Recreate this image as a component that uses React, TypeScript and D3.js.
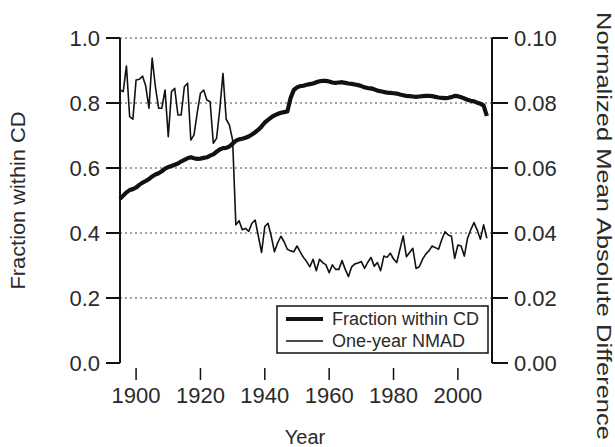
import React from "react";
import * as d3 from "d3";

const startYear = 1895;
const fractionWithinCD = [
  0.505, 0.515, 0.525, 0.532, 0.535, 0.54, 0.548, 0.555, 0.56, 0.566,
  0.574, 0.58, 0.584, 0.59, 0.598, 0.603, 0.606, 0.61, 0.614, 0.62,
  0.625, 0.63, 0.633, 0.63, 0.628, 0.629, 0.631, 0.633, 0.638, 0.642,
  0.65, 0.657, 0.661, 0.662, 0.666, 0.675, 0.684, 0.688, 0.69, 0.693,
  0.697, 0.703, 0.71, 0.718, 0.728, 0.74, 0.748, 0.756, 0.762, 0.766,
  0.77, 0.772, 0.774, 0.815, 0.84, 0.848, 0.852, 0.853, 0.856, 0.858,
  0.86, 0.864, 0.867, 0.868, 0.868, 0.866, 0.863, 0.862, 0.863, 0.864,
  0.862, 0.86, 0.859, 0.857, 0.855, 0.852, 0.848, 0.846, 0.845, 0.842,
  0.838, 0.836, 0.834, 0.832, 0.831, 0.83, 0.829, 0.826, 0.824, 0.822,
  0.821, 0.82, 0.819, 0.82, 0.821, 0.822, 0.822, 0.821, 0.819, 0.817,
  0.816, 0.815, 0.816, 0.818, 0.822, 0.821, 0.818, 0.814, 0.81, 0.807,
  0.805, 0.801, 0.798, 0.792, 0.76,
];
const oneYearNMAD = [
  0.084, 0.0835, 0.0914, 0.0758, 0.075, 0.0871, 0.0873, 0.0883, 0.0852, 0.0784,
  0.0938, 0.085, 0.0784, 0.0784, 0.084, 0.0696, 0.0835, 0.0845, 0.0763, 0.0763,
  0.085, 0.0861, 0.0686, 0.0702, 0.077, 0.083, 0.084, 0.0809, 0.0804, 0.0676,
  0.0691, 0.078, 0.0891, 0.075, 0.0732, 0.0686, 0.0425, 0.0438, 0.041, 0.0414,
  0.0405, 0.043, 0.044, 0.039, 0.034, 0.042, 0.043, 0.039, 0.0342, 0.037,
  0.039, 0.0373, 0.035, 0.0345, 0.0342, 0.036, 0.0342, 0.0325, 0.0312, 0.0296,
  0.0319, 0.0284, 0.0319, 0.0309, 0.0302, 0.0278, 0.0302, 0.0288, 0.0288, 0.0315,
  0.0288, 0.0266, 0.0296, 0.0305, 0.0308, 0.0312, 0.0291, 0.031, 0.0325, 0.0298,
  0.0309, 0.0284, 0.0329, 0.0325, 0.0338, 0.032, 0.0309, 0.035, 0.0391, 0.0327,
  0.034, 0.0353, 0.0291, 0.0296, 0.0319, 0.0335, 0.0345, 0.036, 0.0355, 0.035,
  0.038, 0.0404, 0.0394, 0.039, 0.0322, 0.0363, 0.036, 0.0329, 0.0384, 0.041,
  0.0432, 0.0409, 0.0381, 0.0425, 0.0384,
];
const xTicks = [1900, 1920, 1940, 1960, 1980, 2000];
const leftTicks = [0, 0.2, 0.4, 0.6, 0.8, 1.0];
const rightTicks = [0, 0.02, 0.04, 0.06, 0.08, 0.1];
const gridTicks = [0.2, 0.4, 0.6, 0.8, 1.0];
const legendLabels = ["Fraction within CD", "One-year NMAD"];

const W = 615;
const H = 447;
const FONT = "'Liberation Sans', Arial, sans-serif";
const INK = "#2a2a2a";

export default function App() {
  const x = d3.scaleLinear().domain([1895, 2010.6]).range([120, 492]);
  const yL = d3.scaleLinear().domain([0, 1]).range([363, 38]);
  const yR = d3.scaleLinear().domain([0, 0.1]).range([363, 38]);

  const lineL = d3
    .line<number>()
    .x((_, i) => x(startYear + i))
    .y((d) => yL(d));
  const lineR = d3
    .line<number>()
    .x((_, i) => x(startYear + i))
    .y((d) => yR(d));

  return (
    <div style={{ position: "fixed", left: 0, top: 0 }}>
      <svg width={W} height={H} style={{ display: "block", background: "#fff" }}>
        {gridTicks.map((t) => (
          <line
            key={t}
            x1={120}
            x2={492}
            y1={yL(t)}
            y2={yL(t)}
            stroke="#444"
            strokeWidth={1}
            strokeDasharray="2,3"
          />
        ))}
        <path d={lineR(oneYearNMAD) || ""} fill="none" stroke="#111" strokeWidth={1.6} strokeLinejoin="round" />
        <path d={lineL(fractionWithinCD) || ""} fill="none" stroke="#111" strokeWidth={4.2} strokeLinejoin="round" />

        {/* left axis */}
        <line x1={120} x2={120} y1={yL(1)} y2={yL(0)} stroke="#111" strokeWidth={2} />
        {leftTicks.map((t) => (
          <g key={t}>
            <line x1={106} x2={120} y1={yL(t)} y2={yL(t)} stroke="#111" strokeWidth={2} />
            <text x={100} y={yL(t)} dy="0.36em" textAnchor="end" fontFamily={FONT} fontSize={22} fill={INK}>
              {d3.format(".1f")(t)}
            </text>
          </g>
        ))}
        {/* right axis */}
        <line x1={492} x2={492} y1={yR(0.1)} y2={yR(0)} stroke="#111" strokeWidth={2} />
        {rightTicks.map((t) => (
          <g key={t}>
            <line x1={492} x2={508} y1={yR(t)} y2={yR(t)} stroke="#111" strokeWidth={2} />
            <text x={514} y={yR(t)} dy="0.36em" textAnchor="start" fontFamily={FONT} fontSize={22} fill={INK}>
              {d3.format(".2f")(t)}
            </text>
          </g>
        ))}
        {/* x ticks */}
        {xTicks.map((t) => (
          <g key={t}>
            <line x1={x(t)} x2={x(t)} y1={368} y2={380} stroke="#111" strokeWidth={1.5} />
            <text x={x(t)} y={403} textAnchor="middle" fontFamily={FONT} fontSize={22} fill={INK}>
              {t}
            </text>
          </g>
        ))}
        <text x={305} y={444} textAnchor="middle" fontFamily={FONT} fontSize={20} fill={INK}>
          Year
        </text>
        <text
          transform={`translate(25,${yL(0.5)}) rotate(-90)`}
          textAnchor="middle"
          fontFamily={FONT}
          fontSize={21}
          fill={INK}
          textLength={178}
          lengthAdjust="spacingAndGlyphs"
        >
          Fraction within CD
        </text>
        <text
          transform={`translate(597,226) rotate(90)`}
          textAnchor="middle"
          fontFamily={FONT}
          fontSize={21}
          fill={INK}
          textLength={428}
          lengthAdjust="spacingAndGlyphs"
        >
          Normalized Mean Absolute Difference
        </text>

        {/* legend */}
        <rect x={277} y={306} width={211} height={47} fill="#fff" stroke="#111" strokeWidth={1.5} />
        <line x1={286} x2={323} y1={319} y2={319} stroke="#111" strokeWidth={4.2} />
        <line x1={286} x2={323} y1={341} y2={341} stroke="#111" strokeWidth={1.5} />
        <text x={332} y={319} dy="0.36em" fontFamily={FONT} fontSize={18} fill={INK}>
          {legendLabels[0]}
        </text>
        <text x={332} y={341} dy="0.36em" fontFamily={FONT} fontSize={18} fill={INK}>
          {legendLabels[1]}
        </text>
      </svg>
    </div>
  );
}
